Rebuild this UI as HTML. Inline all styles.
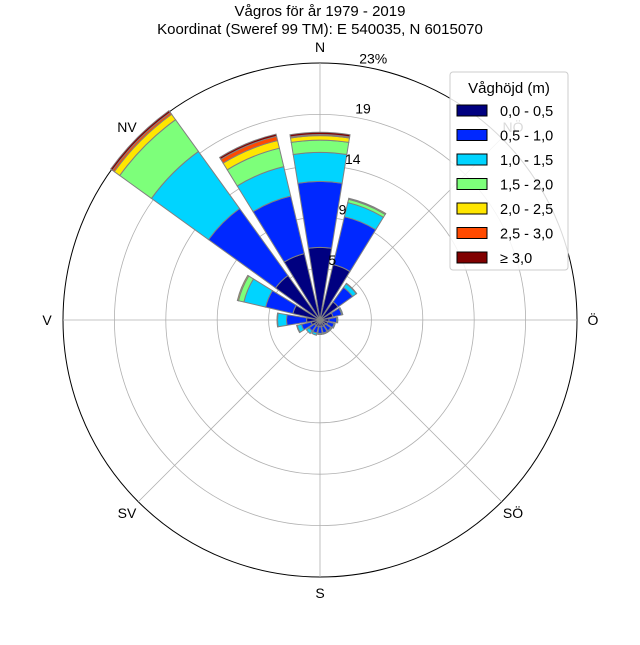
<!DOCTYPE html>
<html><head><meta charset="utf-8"><style>
body{margin:0;background:#fff;}
svg{font-family:"Liberation Sans",sans-serif;}
</style></head><body>
<svg id="c" width="640" height="640" viewBox="0 0 640 640">
<text x="320" y="16" text-anchor="middle" font-size="15">Vågros för år 1979 - 2019</text>
<text x="320" y="34" text-anchor="middle" font-size="15">Koordinat (Sweref 99 TM): E 540035, N 6015070</text>
<g id="grid"></g>
<g id="bars"></g>
<g id="labels"></g>
<g>
<rect x="450" y="72" width="118" height="198" rx="3" fill="#fff" fill-opacity="0.85" stroke="#ccc"/>
<text x="509" y="93" text-anchor="middle" font-size="15">Våghöjd (m)</text>
<g id="leg"></g>
</g>
</svg>
<script>
const directions=["N","NNÖ","NÖ","ÖNÖ","Ö","ÖSÖ","SÖ","SSÖ","S","SSV","SV","VSV","V","VNV","NV","NNV"];
const classLabels=["0,0 - 0,5","0,5 - 1,0","1,0 - 1,5","1,5 - 2,0","2,0 - 2,5","2,5 - 3,0","≥ 3,0"];
const c0=[6.5,5.1,2.0,1.2,0.8,0.7,0.6,0.6,0.6,0.6,0.6,0.8,1.2,2.5,4.9,6.1];
const c1=[5.9,4.4,1.6,0.8,0.7,0.6,0.6,0.6,0.6,0.6,0.6,0.9,1.8,2.5,7.4,5.3];
const c2=[2.6,1.3,0.4,0.1,0.1,0.1,0.1,0.1,0.1,0.2,0.3,0.4,0.8,2.0,6.3,2.7];
const c3=[1.1,0.3,0.05,0,0,0,0,0,0,0,0,0.05,0.05,0.5,3.5,1.7];
const c4=[0.4,0.1,0,0,0,0,0,0,0,0,0,0,0,0.1,0.6,0.7];
const c5=[0.1,0,0,0,0,0,0,0,0,0,0,0,0,0,0.2,0.4];
const c6=[0.2,0,0,0,0,0,0,0,0,0,0,0,0,0,0.2,0.2];
const ringValues=[4.6,9.2,13.8,18.4,23];
const ringLabels=["5","9","14","19","23%"];
const compassLabels=["N","NÖ","Ö","SÖ","S","SV","V","NV"];
const colors=["#000080","#0028ff","#00d4ff","#7dff7a","#ffe600","#ff4a00","#800000"];
const series=[c0,c1,c2,c3,c4,c5,c6];
const CX=320,CY=320,R=257,VMAX=23;
const NS="http://www.w3.org/2000/svg";
function rScale(v){return v/VMAX*R;}
function pt(r,deg){const a=deg*Math.PI/180;return [CX+r*Math.sin(a),CY-r*Math.cos(a)];}
function mk(tag,attrs,parent){const e=document.createElementNS(NS,tag);for(const k in attrs)e.setAttribute(k,attrs[k]);parent.appendChild(e);return e;}
const grid=document.getElementById('grid');
ringValues.forEach((v,i)=>{
 const e=mk('circle',{cx:CX,cy:CY,r:rScale(v),fill:'none',stroke:i===ringValues.length-1?'#000':'#b0b0b0','stroke-width':i===ringValues.length-1?1:0.8},grid);
 
 
});
for(let k=0;k<8;k++){
 const p=pt(R,k*45);
 const e=mk('line',{x1:CX,y1:CY,x2:p[0],y2:p[1],stroke:'#b0b0b0','stroke-width':0.8},grid);
 
 
}
const bars=document.getElementById('bars');
const half=9.2;
directions.forEach((d,i)=>{
 const ang=i*22.5;let cum=0;
 series.forEach((s,j)=>{
  const v=s[i];if(v<=0)return;
  const r0=rScale(cum),r1=rScale(cum+v);cum+=v;
  const a=pt(r0,ang-half),b=pt(r1,ang-half),cc=pt(r1,ang+half),dd=pt(r0,ang+half);
  const path=`M${a[0]},${a[1]}L${b[0]},${b[1]}A${r1},${r1} 0 0 1 ${cc[0]},${cc[1]}L${dd[0]},${dd[1]}A${r0},${r0} 0 0 0 ${a[0]},${a[1]}Z`;
  const e=mk('path',{d:path,fill:colors[j],stroke:'#808080','stroke-width':1},bars);
  
  
 });
});
const labels=document.getElementById('labels');
compassLabels.forEach((t,k)=>{
 const p=pt(273,k*45);
 const e=mk('text',{x:p[0],y:p[1]+5,'text-anchor':'middle','font-size':14},labels);
 e.textContent=t;
 
 
});
ringValues.forEach((v,i)=>{
 const p=pt(rScale(v)+10,11.5);
 const e=mk('text',{x:p[0],y:p[1]+5,'text-anchor':'middle','font-size':14},labels);
 e.textContent=ringLabels[i];
 
 
});
const leg=document.getElementById('leg');
classLabels.forEach((t,j)=>{
 const y=105+j*24.5;
 const r=mk('rect',{x:457,y:y,width:30,height:11,fill:colors[j],stroke:'#000','stroke-width':1},leg);
 
 
 const e=mk('text',{x:500,y:y+11,'font-size':14.5},leg);
 e.textContent=t;
 
 
});
</script>
</body></html>
